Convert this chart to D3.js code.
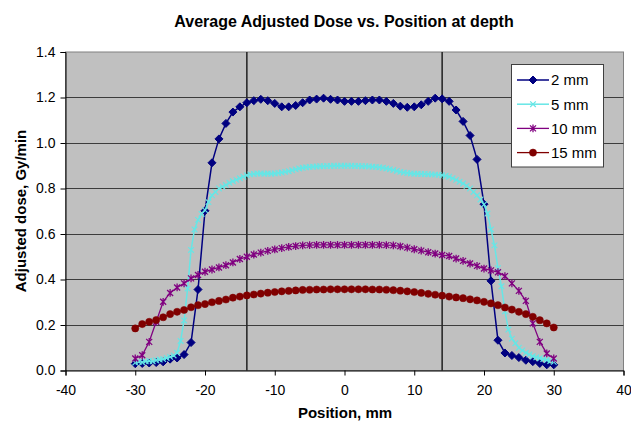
<!DOCTYPE html>
<html><head><meta charset="utf-8">
<script src="https://cdn.jsdelivr.net/npm/d3@7"></script>
<style>html,body{margin:0;padding:0;background:#fff;}svg{display:block;font-family:Arial,"Liberation Sans",sans-serif;}</style>
</head><body>
<script>
const titleText = "Average Adjusted Dose vs. Position at depth";
const xTitle = "Position, mm";
const yTitle = "Adjusted dose, Gy/min";
const xTicks = [-40,-30,-20,-10,0,10,20,30,40];
const yTicks = [0,0.2,0.4,0.6,0.8,1.0,1.2,1.4];
const markerLines = [-14, 14];
const seriesNames = ["2 mm","5 mm","10 mm","15 mm"];

const pos1 = [-30,-29,-28,-27,-26,-25,-24,-23,-22,-21,-20,-19,-18,-17,-16,-15,-14,-13,-12,-11,-10,-9,-8,-7,-6,-5,-4,-3,-2,-1,0,1,2,3,4,5,6,7,8,9,10,11,12,13,14,15,16,17,18,19,20,21,22,23,24,25,26,27,28,29,30];
const pos05 = [-30,-29.5,-29,-28.5,-28,-27.5,-27,-26.5,-26,-25.5,-25,-24.5,-24,-23.5,-23,-22.5,-22,-21.5,-21,-20.5,-20,-19.5,-19,-18.5,-18,-17.5,-17,-16.5,-16,-15.5,-15,-14.5,-14,-13.5,-13,-12.5,-12,-11.5,-11,-10.5,-10,-9.5,-9,-8.5,-8,-7.5,-7,-6.5,-6,-5.5,-5,-4.5,-4,-3.5,-3,-2.5,-2,-1.5,-1,-0.5,0,0.5,1,1.5,2,2.5,3,3.5,4,4.5,5,5.5,6,6.5,7,7.5,8,8.5,9,9.5,10,10.5,11,11.5,12,12.5,13,13.5,14,14.5,15,15.5,16,16.5,17,17.5,18,18.5,19,19.5,20,20.5,21,21.5,22,22.5,23,23.5,24,24.5,25,25.5,26,26.5,27,27.5,28,28.5,29,29.5,30];

const dose2 = [0.030,0.031,0.033,0.035,0.038,0.050,0.055,0.070,0.123,0.356,0.702,0.913,1.018,1.086,1.136,1.159,1.177,1.186,1.192,1.186,1.174,1.159,1.159,1.165,1.177,1.189,1.193,1.197,1.192,1.189,1.183,1.183,1.183,1.186,1.189,1.189,1.183,1.174,1.162,1.157,1.159,1.168,1.183,1.197,1.194,1.183,1.145,1.095,1.033,0.928,0.731,0.394,0.133,0.077,0.066,0.057,0.045,0.039,0.031,0.025,0.025];
const dose5 = [0.035,0.038,0.036,0.040,0.042,0.040,0.045,0.048,0.050,0.055,0.060,0.066,0.078,0.130,0.220,0.360,0.530,0.620,0.662,0.688,0.705,0.740,0.770,0.785,0.800,0.808,0.815,0.825,0.832,0.838,0.845,0.852,0.858,0.862,0.864,0.866,0.866,0.865,0.866,0.865,0.866,0.868,0.870,0.873,0.876,0.880,0.884,0.888,0.891,0.893,0.895,0.896,0.897,0.898,0.898,0.899,0.899,0.900,0.900,0.900,0.900,0.900,0.900,0.899,0.899,0.898,0.898,0.897,0.896,0.895,0.893,0.891,0.888,0.885,0.881,0.877,0.873,0.870,0.868,0.866,0.865,0.865,0.864,0.864,0.863,0.862,0.861,0.860,0.858,0.856,0.852,0.845,0.838,0.830,0.822,0.812,0.800,0.785,0.770,0.752,0.730,0.690,0.620,0.550,0.450,0.370,0.260,0.180,0.140,0.120,0.100,0.088,0.078,0.070,0.063,0.058,0.054,0.050,0.046,0.042,0.038];
const dose10 = [0.053,0.067,0.126,0.214,0.302,0.341,0.365,0.383,0.405,0.420,0.434,0.444,0.453,0.463,0.475,0.490,0.500,0.510,0.518,0.526,0.532,0.538,0.543,0.547,0.550,0.551,0.552,0.552,0.552,0.552,0.552,0.552,0.552,0.552,0.552,0.552,0.551,0.550,0.546,0.540,0.533,0.527,0.520,0.514,0.508,0.503,0.492,0.482,0.470,0.460,0.448,0.440,0.432,0.415,0.383,0.350,0.306,0.207,0.126,0.075,0.053];
const dose15 = [0.185,0.204,0.214,0.222,0.234,0.248,0.258,0.266,0.278,0.287,0.292,0.300,0.306,0.312,0.320,0.325,0.330,0.334,0.338,0.342,0.345,0.348,0.350,0.352,0.354,0.355,0.356,0.356,0.357,0.357,0.357,0.357,0.357,0.357,0.356,0.356,0.355,0.353,0.351,0.348,0.345,0.341,0.337,0.333,0.329,0.325,0.321,0.318,0.313,0.308,0.302,0.295,0.287,0.277,0.268,0.258,0.248,0.236,0.221,0.207,0.189];

const colors = ["#000080","#66e6e6","#800080","#800000"];
const W = 631, H = 425;
const plot = {l:65.5, r:623.5, t:52, b:370.5};

const svg = d3.select("body").append("svg").attr("width",W).attr("height",H);
const x = d3.scaleLinear().domain([-40,40]).range([plot.l, plot.r]);
const y = d3.scaleLinear().domain([0,1.4]).range([plot.b, plot.t]);

// plot background
svg.append("rect").attr("x",plot.l).attr("y",plot.t).attr("width",plot.r-plot.l).attr("height",plot.b-plot.t)
  .attr("fill","#c0c0c0").attr("stroke","#808080").attr("stroke-width",1);

// gridlines
svg.append("g").selectAll("line").data(yTicks.filter(d=>d>0 && d<1.4)).join("line")
  .attr("x1",plot.l).attr("x2",plot.r).attr("y1",d=>Math.round(y(d))+0.5).attr("y2",d=>Math.round(y(d))+0.5)
  .attr("stroke","#3c3c3c").attr("stroke-width",1);

// vertical reference lines
svg.append("g").selectAll("line").data(markerLines).join("line")
  .attr("x1",d=>x(d)).attr("x2",d=>x(d)).attr("y1",y(0)).attr("y2",y(1.4))
  .attr("stroke","#2a2a2a").attr("stroke-width",1.6);

// axes
const xAxis = svg.append("g").attr("transform",`translate(0,${plot.b})`)
  .call(d3.axisBottom(x).tickValues(xTicks).tickSize(5).tickPadding(10).tickFormat(d=>String(d)));
const yAxis = svg.append("g").attr("transform",`translate(${plot.l},0)`)
  .call(d3.axisLeft(y).tickValues(yTicks).tickSize(5).tickPadding(5).tickFormat(d3.format(".1f")));
[xAxis,yAxis].forEach(a=>{
  a.selectAll("text").attr("font-size",14).attr("font-family",'Arial,"Liberation Sans",sans-serif').attr("fill","#000");
  a.selectAll("line").attr("stroke","#000");
  a.select(".domain").attr("stroke","#000");
});

// markers
const diamond = s => `M0,${-s}L${s},0L0,${s}L${-s},0Z`;
const cross = s => `M${-s},${-s}L${s},${s}M${-s},${s}L${s},${-s}`;
const star = s => `M${-s},${-s}L${s},${s}M${-s},${s}L${s},${-s}M0,${-s*1.3}L0,${s*1.3}`;

const series = [
  {name:seriesNames[0], xs:pos1, ys:dose2, color:colors[0], lw:1.5, marker:"diamond"},
  {name:seriesNames[1], xs:pos05, ys:dose5, color:colors[1], lw:1.5, marker:"cross"},
  {name:seriesNames[2], xs:pos1, ys:dose10, color:colors[2], lw:1.3, marker:"star"},
  {name:seriesNames[3], xs:pos1, ys:dose15, color:colors[3], lw:1.3, marker:"circle"}
];

function drawMarker(g, type, color){
  if(type==="diamond") g.append("path").attr("d",diamond(4)).attr("fill",color).attr("stroke",color);
  else if(type==="cross") g.append("path").attr("d",cross(2.8)).attr("fill","none").attr("stroke",color).attr("stroke-width",1.2);
  else if(type==="star") g.append("path").attr("d",star(3)).attr("fill","none").attr("stroke",color).attr("stroke-width",1.3);
  else g.append("circle").attr("r",3.6).attr("fill",color).attr("stroke",color).attr("stroke-width",0.5);
}

const line = d3.line().x(d=>x(d[0])).y(d=>y(d[1]));
series.forEach(s=>{
  const pts = s.xs.map((p,i)=>[p,s.ys[i]]);
  const g = svg.append("g");
  g.append("path").datum(pts).attr("d",line).attr("fill","none").attr("stroke",s.color).attr("stroke-width",s.lw);
  pts.forEach(p=>{
    const mg = g.append("g").attr("transform",`translate(${x(p[0])},${y(p[1])})`);
    drawMarker(mg, s.marker, s.color);
  });
});

// legend
const lg = svg.append("g");
lg.append("rect").attr("x",511.5).attr("y",64.5).attr("width",92).attr("height",102.5)
  .attr("fill","#fff").attr("stroke","#404040").attr("stroke-width",1);
series.forEach((s,i)=>{
  const yy = 80 + i*24.2;
  lg.append("line").attr("x1",517).attr("x2",549).attr("y1",yy).attr("y2",yy).attr("stroke",s.color).attr("stroke-width",s.lw);
  const mg = lg.append("g").attr("transform",`translate(533,${yy})`);
  drawMarker(mg, s.marker, s.color);
  lg.append("text").attr("x",551).attr("y",yy).attr("dy","0.36em").attr("font-size",15).text(s.name);
});

// titles
svg.append("text").attr("x",344).attr("y",27).attr("text-anchor","middle").attr("font-size",16).attr("font-weight","bold").text(titleText);
svg.append("text").attr("x",345).attr("y",418).attr("text-anchor","middle").attr("font-size",15).attr("font-weight","bold").text(xTitle);
svg.append("text").attr("transform","translate(26,211) rotate(-90)").attr("text-anchor","middle").attr("font-size",15).attr("font-weight","bold").text(yTitle);
</script>
</body></html>
